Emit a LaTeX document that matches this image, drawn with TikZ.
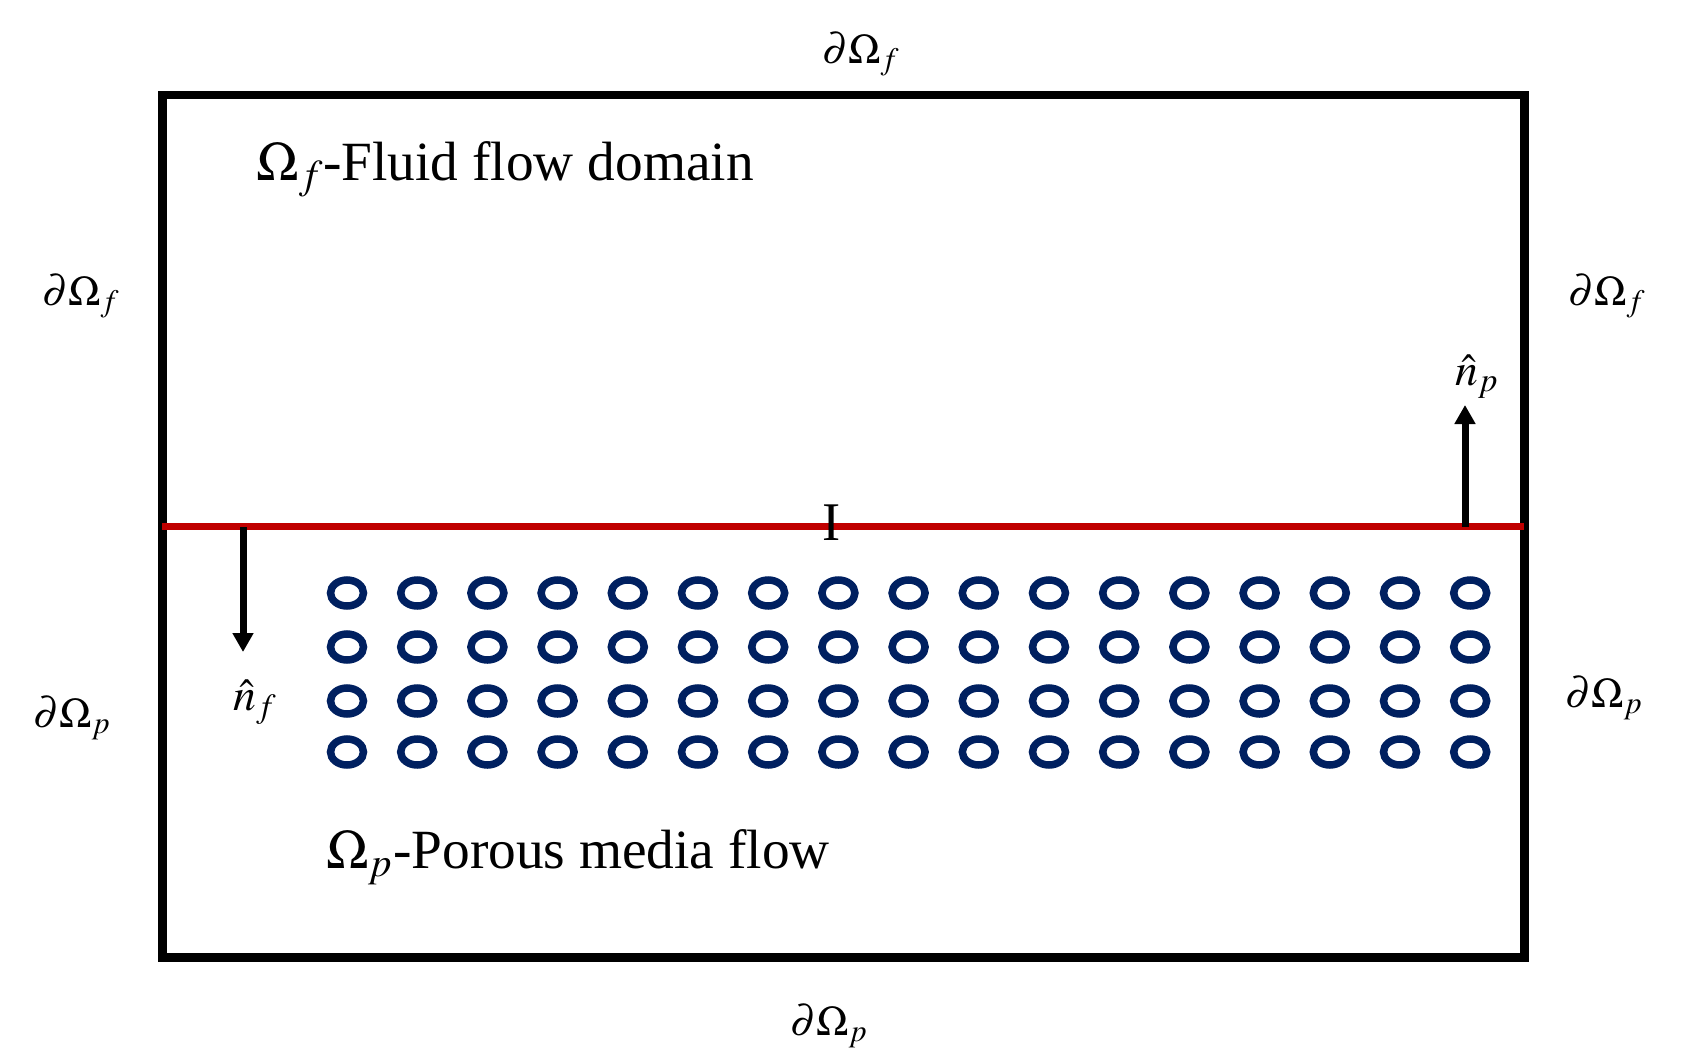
\documentclass[tikz,border=0pt]{standalone}
\usepackage{mathptmx}
\usepackage{fontspec}
\setmainfont{Liberation Serif}
\usetikzlibrary{arrows.meta}
\definecolor{Interface}{HTML}{C00000}
\definecolor{Pore}{HTML}{002060}
\tikzset{
  outerbox/.style={draw=black,line width=.18cm},
  interface/.style={draw=Interface,line width=.13cm},
  normal/.style={-{Triangle[length=.38cm,width=.4cm]},draw=black,line width=.14cm},
  pore/.style={draw=Pore,line width=.15cm},
  lbl/.style={inner sep=0pt,font=\fontsize{24}{28}\selectfont},
  nlbl/.style={inner sep=0pt,font=\fontsize{26}{30}\selectfont},
  domlbl/.style={inner sep=0pt,font=\fontsize{31.5}{36}\selectfont},
  biglbl/.style={inner sep=0pt,font=\fontsize{31}{36}\selectfont}
}
\begin{document}
\begin{tikzpicture}[x=.02cm,y=-.02cm]
      \useasboundingbox (0,0) rectangle (1688,1058);
      % domain and interface
      \draw[outerbox] (162.5,95) rectangle (1524,957.5);
      \coordinate (ileft) at (162,526.5);
      \coordinate (iright) at (1524,526.5);
      \draw[interface] (ileft) -- (iright);
      \node[biglbl] (gamma) at (832,523) {I};
      % pores
      \foreach \row/\y in {1/593,2/647,3/701,4/752} {
        \foreach \col in {0,...,16} {
          \draw[pore] ({347+70.2*\col},\y) ellipse [x radius=.33cm,y radius=.26cm];
        }
      }
      % unit normals
      \coordinate (nfbase) at (243,527);
      \coordinate (nftip) at (243,652);
      \coordinate (npbase) at (1465,527);
      \coordinate (nptip) at (1465,405);
      \draw[normal] (nfbase) -- (nftip);
      \draw[normal] (npbase) -- (nptip);
      \node[nlbl,anchor=base west] (nf) at (233,710) {$\hat{n}_f$};
      \node[nlbl,anchor=base west] (np) at (1455,385) {$\hat{n}_p$};
      % domain names
      \node[domlbl,anchor=base west] (fluid) at (256,180) {$\Omega_f$-Fluid flow domain};
      \node[domlbl,anchor=base west] (porous) at (326,868) {$\Omega_p$-Porous media flow};
      % boundaries
      \node[lbl,anchor=base west] (btop) at (822,63) {$\partial\Omega_f$};
      \node[lbl,anchor=base west] (bleftf) at (42,305) {$\partial\Omega_f$};
      \node[lbl,anchor=base west] (brightf) at (1568,305) {$\partial\Omega_f$};
      \node[lbl,anchor=base west] (bleftp) at (33,727) {$\partial\Omega_p$};
      \node[lbl,anchor=base west] (brightp) at (1565,707) {$\partial\Omega_p$};
      \node[lbl,anchor=base west] (bbottom) at (790,1035) {$\partial\Omega_p$};
    \end{tikzpicture}
\end{document}
